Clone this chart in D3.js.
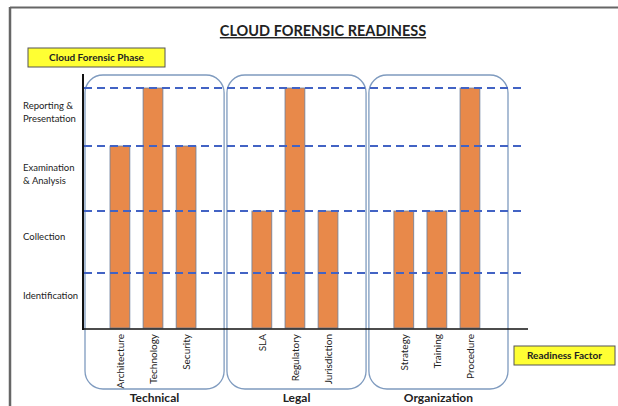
<!DOCTYPE html>
<meta charset="utf-8">
<head>
<title>Cloud Forensic Readiness</title>
<style>
  body { margin: 0; background: #fff; }
  text { font-family: Lato, "Open Sans", sans-serif; fill: #222; }
  .title { font-size: 14.5px; font-weight: bold; text-decoration: underline; }
  .phase { font-size: 9.5px; }
  .factor { font-size: 10px; }
  .group { font-size: 12px; font-weight: bold; }
  .tag { font-size: 10px; font-weight: bold; }
</style>
</head>
<body>
<svg width="618" height="406"></svg>
<script src="https://cdn.jsdelivr.net/npm/d3@7"></script>
<script>

// data
var groups = ["Technical", "Legal", "Organization"];
var factors = [
  ["Architecture", "Technology", "Security"],
  ["SLA", "Regulatory", "Jurisdiction"],
  ["Strategy", "Training", "Procedure"]
];
// phase level reached by each factor (1 = Identification ... 4 = Reporting)
var levels = [
  [3, 4, 3],
  [2, 4, 2],
  [2, 2, 4]
];
var phases = [["Identification"], ["Collection"], ["Examination", "& Analysis"], ["Reporting &", "Presentation"]];

var svg = d3.select("svg");

// page frame (top and left only)
svg.append("line").attr("x1", 10).attr("y1", 7.5).attr("x2", 618).attr("y2", 7.5)
  .attr("stroke", "#666").attr("stroke-width", 2);
svg.append("line").attr("x1", 10).attr("y1", 7).attr("x2", 10).attr("y2", 406)
  .attr("stroke", "#666").attr("stroke-width", 2.5);

svg.append("text").attr("class", "title")
  .attr("x", 323).attr("y", 36).attr("text-anchor", "middle")
  .text("CLOUD FORENSIC READINESS");

// scales (phase bands are not equally tall in the original)
var y = d3.scaleLinear().domain([0, 1, 2, 3, 4]).range([328, 273, 211, 146, 88]);
var gx = d3.scaleBand().domain(groups).range([85, 508]).paddingInner(0.02);
var ix = d3.scaleBand().domain([0, 1, 2]).range([25, 111]).paddingInner(0.4).paddingOuter(0);

// group boxes
svg.selectAll(".gbox").data(groups).enter().append("rect")
  .attr("class", "gbox")
  .attr("x", function(d) { return gx(d); })
  .attr("y", 75)
  .attr("width", gx.bandwidth())
  .attr("height", 314)
  .attr("rx", 18)
  .attr("fill", "none")
  .attr("stroke", "#7f9bbf")
  .attr("stroke-width", 1.3);

// bars
var bars = [];
groups.forEach(function(g, gi) {
  factors[gi].forEach(function(f, i) {
    bars.push({ group: g, i: i, name: f, level: levels[gi][i] });
  });
});

svg.selectAll(".bar").data(bars).enter().append("rect")
  .attr("class", "bar")
  .attr("x", function(d) { return gx(d.group) + ix(d.i); })
  .attr("y", function(d) { return y(d.level); })
  .attr("width", ix.bandwidth())
  .attr("height", function(d) { return y(0) - y(d.level); })
  .attr("fill", "#e8894a")
  .attr("stroke", "#6a7f9e")
  .attr("stroke-width", 0.8);

// dashed phase lines
svg.selectAll(".dash").data([1, 2, 3, 4]).enter().append("line")
  .attr("x1", 84).attr("x2", 522)
  .attr("y1", function(d) { return y(d); })
  .attr("y2", function(d) { return y(d); })
  .attr("stroke", "#4263c4")
  .attr("stroke-width", 2)
  .attr("stroke-dasharray", "8,5");

// axes
svg.append("line").attr("x1", 83).attr("y1", 74).attr("x2", 83).attr("y2", 330)
  .attr("stroke", "#111").attr("stroke-width", 2);
svg.append("line").attr("x1", 82).attr("y1", 329).attr("x2", 528).attr("y2", 329)
  .attr("stroke", "#111").attr("stroke-width", 1.6);

// phase labels
var pl = svg.selectAll(".phase").data(phases).enter().append("text")
  .attr("class", "phase")
  .attr("x", 23)
  .attr("y", function(d, i) { return (y(i) + y(i + 1)) / 2 - (d.length - 1) * 6 - 2; });
pl.selectAll("tspan").data(function(d) { return d; }).enter().append("tspan")
  .attr("x", 23)
  .attr("dy", function(d, i) { return i ? 13 : 0; })
  .text(function(d) { return d; });

// factor labels (rotated)
svg.selectAll(".factor").data(bars).enter().append("text")
  .attr("class", "factor")
  .attr("text-anchor", "end")
  .attr("transform", function(d) {
    var cx = gx(d.group) + ix(d.i) + ix.bandwidth() / 2 + 4;
    return "translate(" + cx + ",334) rotate(-90)";
  })
  .text(function(d) { return d.name; });

// group labels
svg.selectAll(".group").data(groups).enter().append("text")
  .attr("class", "group")
  .attr("x", function(d) { return gx(d) + gx.bandwidth() / 2; })
  .attr("y", 402)
  .attr("text-anchor", "middle")
  .text(function(d) { return d; });

// yellow tags
function tag(x, yy, w, h, label) {
  svg.append("rect").attr("x", x).attr("y", yy).attr("width", w).attr("height", h)
    .attr("fill", "#ffff33").attr("stroke", "#555").attr("stroke-width", 1);
  svg.append("text").attr("class", "tag")
    .attr("x", x + w / 2).attr("y", yy + h / 2 + 3.5)
    .attr("text-anchor", "middle").text(label);
}
tag(28, 48, 137, 19, "Cloud Forensic Phase");
tag(514, 346, 101, 19, "Readiness Factor");

</script>
</body>
</html>
